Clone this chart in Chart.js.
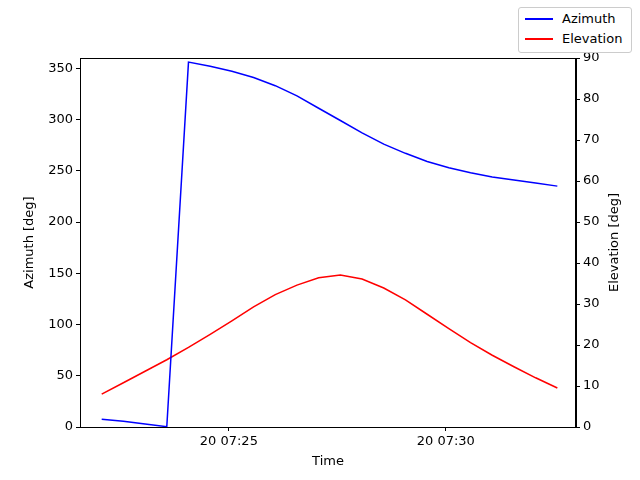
<!DOCTYPE html>
<html><head><meta charset="utf-8">
<script src="https://cdn.jsdelivr.net/npm/chart.js@4"></script>
<style>
body{margin:0;background:#fff;font-family:"DejaVu Sans",sans-serif}
#wrap{position:relative;width:640px;height:480px}
#leg{position:absolute;left:518px;top:7px;width:114px;height:46px;border:1px solid #ccc;border-radius:3px;background:#fff;font-size:13px;box-sizing:border-box}
.row{position:absolute;left:6px;display:flex;align-items:center}
.ln{width:28px;height:2px;margin-right:9px}
</style></head><body>
<div id="wrap"><canvas id="c" width="640" height="480"></canvas>
<div id="leg"><div class="row" style="top:3px"><div class="ln" style="background:#0000ff"></div>Azimuth</div>
<div class="row" style="top:23px"><div class="ln" style="background:#ff0000"></div>Elevation</div></div></div>
<script>
const times=[22.07,22.57,23.07,23.57,24.07,24.57,25.07,25.57,26.07,26.57,27.07,27.57,28.07,28.57,29.07,29.57,30.07,30.57,31.07,31.57,32.07,32.57];
const azimuth=[7.5,5.5,3,0.3,356,352,347,341,333,323,311,299,287,276,267,259,253,248,244,241,238,235];
const elevation=[8,10.8,13.6,16.4,19.4,22.6,25.9,29.3,32.3,34.6,36.4,37.1,36.1,33.9,31,27.5,24,20.6,17.5,14.7,12,9.5];
const tickVals=[25,30];
const tickLabels=["20 07:25","20 07:30"];
const leftTicks=[0,50,100,150,200,250,300,350];
const font={family:"DejaVu Sans",size:13};
const deco={id:'b',afterDraw(ch){const a=ch.chartArea,x=ch.ctx;x.save();x.strokeStyle='#000';x.lineWidth=1;x.strokeRect(a.left+0.5,a.top+0.5,a.right-a.left-1,a.bottom-a.top);
x.fillStyle='#000';x.font='13px "DejaVu Sans"';x.textAlign='center';x.textBaseline='middle';
const cy=(a.top+a.bottom)/2;
x.save();x.translate(30,cy);x.rotate(-Math.PI/2);x.fillText('Azimuth [deg]',0,0);x.restore();
x.save();x.translate(615,cy);x.rotate(-Math.PI/2);x.fillText('Elevation [deg]',0,0);x.restore();
x.fillText('Time',(a.left+a.right)/2,462);
x.restore();}};
new Chart(document.getElementById('c'),{type:'line',
data:{datasets:[
{label:'Azimuth',data:times.map((t,i)=>({x:t,y:azimuth[i]})),borderColor:'#0000ff',borderWidth:1.5,pointRadius:0,yAxisID:'y'},
{label:'Elevation',data:times.map((t,i)=>({x:t,y:elevation[i]})),borderColor:'#ff0000',borderWidth:1.5,pointRadius:0,yAxisID:'y2'}]},
options:{responsive:false,animation:false,layout:{padding:{top:58,left:0,right:0,bottom:0}},
plugins:{legend:{display:false},tooltip:{enabled:false}},
scales:{
x:{type:'linear',min:21.57,max:33.0,afterBuildTicks:s=>{s.ticks=tickVals.map(v=>({value:v}));},
 afterFit:s=>{s.height=53},
 ticks:{color:'#000',font,maxRotation:0,callback:(v)=>tickLabels[tickVals.indexOf(v)]},
 grid:{drawOnChartArea:false,tickLength:4,color:'#000'},border:{color:'#000'}},
y:{position:'left',min:0,max:360,afterFit:s=>{s.width=80},afterBuildTicks:s=>{s.ticks=leftTicks.map(v=>({value:v}));},
 ticks:{color:'#000',font},grid:{drawOnChartArea:false,tickLength:4,color:'#000'},border:{color:'#000'}},
y2:{position:'right',min:0,max:90,afterFit:s=>{s.width=64},
 ticks:{stepSize:10,color:'#000',font},grid:{drawOnChartArea:false,tickLength:4,color:'#000'},border:{color:'#000'}}}},
plugins:[deco]});
</script></body></html>
